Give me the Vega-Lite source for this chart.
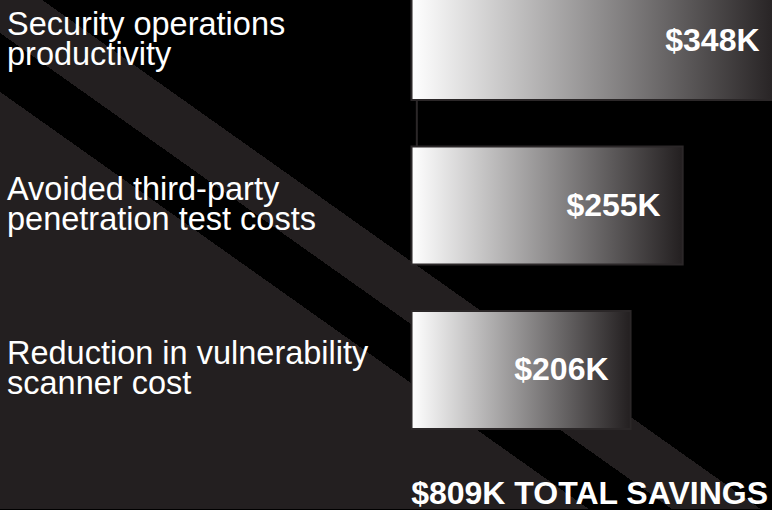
{
  "$schema": "https://vega.github.io/schema/vega-lite/v6.json",
  "width": 772,
  "height": 510,
  "autosize": {"type": "fit", "contains": "padding"},
  "padding": 0,
  "background": "#000000",
  "view": {
    "stroke": null,
    "fill": {
      "gradient": "linear",
      "x1": 1, "y1": 0, "x2": -0.07475, "y2": 1,
      "stops": [
        {"offset": 0, "color": "#000000"},
        {"offset": 0.4714, "color": "#000000"},
        {"offset": 0.4714, "color": "#231f20"},
        {"offset": 0.5287, "color": "#231f20"},
        {"offset": 0.5287, "color": "#000000"},
        {"offset": 0.5824, "color": "#000000"},
        {"offset": 0.5824, "color": "#231f20"},
        {"offset": 1, "color": "#231f20"}
      ]
    }
  },
  "data": {
    "values": [
      {"item": "1", "label": "Security operations\nproductivity", "value": 348, "valueLabel": "$348K"},
      {"item": "2", "label": "Avoided third-party\npenetration test costs", "value": 255, "valueLabel": "$255K"},
      {"item": "3", "label": "Reduction in vulnerability\nscanner cost", "value": 206, "valueLabel": "$206K"}
    ]
  },
  "layer": [
    {
      "transform": [{"filter": "datum.item == '1'"}],
      "mark": {"type": "rule", "color": "#2b2728", "strokeWidth": 2, "clip": true},
      "encoding": {
        "x": {"datum": 5, "type": "quantitative"},
        "y": {"field": "item", "type": "nominal"},
        "y2": {"datum": "2"}
      }
    },
    {
      "mark": {
        "type": "bar",
        "clip": true,
        "stroke": "#2b2728",
        "strokeWidth": 2,
        "fill": {
          "gradient": "linear",
          "x1": 0, "y1": 0, "x2": 1, "y2": 0,
          "stops": [
            {"offset": 0, "color": "#ffffff"},
            {"offset": 1, "color": "#231f20"}
          ]
        }
      },
      "encoding": {
        "x": {
          "field": "value", "type": "quantitative",
          "scale": {"domain": [-387, 339], "nice": false, "zero": false},
          "axis": null
        },
        "y": {
          "field": "item", "type": "nominal", "sort": null,
          "scale": {"range": [-18, 429], "paddingInner": 0.283, "paddingOuter": 0, "align": 0},
          "axis": null
        }
      }
    },
    {
      "mark": {"type": "text", "align": "right", "baseline": "middle", "dx": -22, "fontSize": 32, "fontWeight": "bold", "font": "Liberation Sans", "color": "#ffffff"},
      "encoding": {
        "x": {"field": "value", "type": "quantitative"},
        "y": {"field": "item", "type": "nominal"},
        "text": {"field": "valueLabel"}
      }
    },
    {
      "mark": {"type": "text", "align": "left", "baseline": "middle", "dx": 7, "dy": -16, "fontSize": 32.5, "lineHeight": 30, "lineBreak": "\n", "font": "Liberation Sans", "color": "#ffffff"},
      "encoding": {
        "x": {"value": 0},
        "y": {"field": "item", "type": "nominal"},
        "text": {"field": "label"}
      }
    },
    {
      "data": {"values": [{"total": "$809K TOTAL SAVINGS"}]},
      "mark": {"type": "text", "align": "right", "baseline": "alphabetic", "dx": -4, "dy": -5, "fontSize": 32, "fontWeight": "bold", "font": "Liberation Sans", "color": "#ffffff"},
      "encoding": {
        "x": {"value": "width"},
        "y": {"value": "height"},
        "text": {"field": "total"}
      }
    }
  ],
  "config": {"axis": {"disable": true}, "font": "Liberation Sans"}
}
